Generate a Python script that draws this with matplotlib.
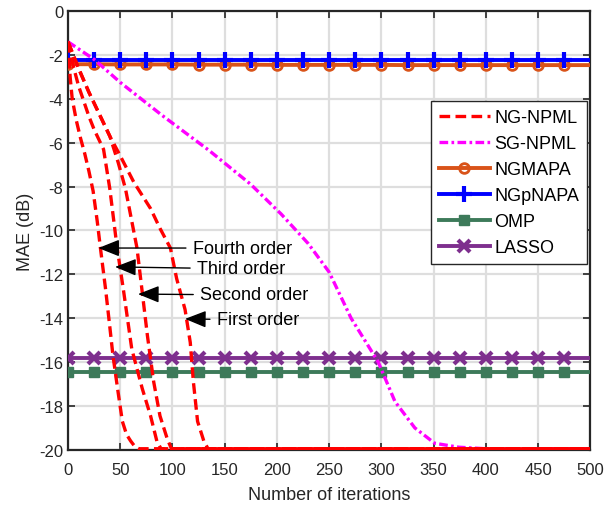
import numpy as np
import matplotlib
matplotlib.use("Agg")
import matplotlib.pyplot as plt

plt.rcParams['font.family'] = ['Liberation Sans', 'DejaVu Sans']
plt.rcParams['axes.unicode_minus'] = False

# ---------------- data ----------------
# NG-NPML curves (iterations, MAE dB)
ng4_x = [0, 2, 4, 8, 12, 16, 20, 24, 28, 31, 36, 40, 43, 48, 52, 56, 60, 64, 68, 500]
ng4_y = [-1.4, -3.0, -4.0, -5.0, -5.8, -6.5, -7.3, -8.2, -9.6, -10.8, -12.7, -14.4, -15.7, -17.4, -18.7, -19.3, -19.6, -19.85, -19.95, -19.95]

ng3_x = [0, 5, 10, 15, 20, 25, 30, 34, 40, 47, 53, 61, 71, 79, 85, 89, 500]
ng3_y = [-1.4, -2.5, -3.4, -4.1, -4.8, -5.4, -5.9, -6.3, -8.1, -10.8, -12.7, -15.4, -17.2, -18.45, -19.6, -19.95, -19.95]

ng2_x = [0, 10, 20, 30, 40, 44, 48, 55, 66, 71, 76, 82, 88, 95, 99, 500]
ng2_y = [-1.4, -2.6, -3.7, -4.7, -5.7, -6.3, -6.9, -8.1, -10.8, -12.8, -14.8, -16.9, -18.45, -19.5, -19.95, -19.95]

ng1_x = [0, 10, 20, 30, 40, 50, 63, 79, 88, 98, 104, 112, 117, 120, 124, 130, 134, 500]
ng1_y = [-1.4, -2.6, -3.7, -4.7, -5.7, -6.6, -7.8, -9.0, -9.9, -10.8, -12.2, -13.6, -15.1, -16.9, -18.7, -19.6, -19.95, -19.95]

sg_x = [0, 25, 50, 90, 135, 175, 204, 230, 250, 271, 297, 313, 332, 351, 374, 400, 500]
sg_y = [-1.4, -2.2, -3.25, -4.75, -6.35, -7.9, -9.25, -10.6, -11.9, -14.0, -16.0, -17.8, -19.0, -19.7, -19.88, -19.95, -19.95]

# baselines sampled every 25 iterations
base_x = [0, 25, 50, 75, 100, 125, 150, 175, 200, 225, 250, 275, 300, 325, 350, 375, 400, 425, 450, 475, 500]
ngmapa_y = [-2.42, -2.42, -2.43, -2.43, -2.43, -2.44, -2.44, -2.44, -2.45, -2.45, -2.45, -2.45, -2.45, -2.46, -2.46, -2.46, -2.46, -2.46, -2.46, -2.46, -2.46]
ngpnapa_y = [-2.25] * 21
omp_y = [-16.45] * 21
lasso_y = [-15.8] * 21

labels = ['NG-NPML', 'SG-NPML', 'NGMAPA', 'NGpNAPA', 'OMP', 'LASSO']

annot_text = ['Fourth order', 'Third order', 'Second order', 'First order']
annot_tip = [(29, -10.8), (45, -11.66), (67, -12.9), (112, -14.03)]
annot_txt = [(119.5, -10.8), (123.5, -11.75), (126.5, -12.94), (142.5, -14.08)]

# ---------------- plot ----------------
fig = plt.figure(figsize=(6.13, 5.06), dpi=100)
ax = fig.add_axes([0.111, 0.109, 0.852, 0.867])

red = '#FF0000'
mag = '#FF00FF'
org = '#D95319'
blu = '#0000FF'
grn = '#3D7A5A'
pur = '#7E2F8E'
lw = 2.4

l1, = ax.plot(ng4_x, ng4_y, color=red, lw=lw, dashes=(3.2, 1.6), zorder=5)
ax.plot(ng3_x, ng3_y, color=red, lw=lw, dashes=(3.2, 1.6), zorder=5)
ax.plot(ng2_x, ng2_y, color=red, lw=lw, dashes=(3.2, 1.6), zorder=5)
ax.plot(ng1_x, ng1_y, color=red, lw=lw, dashes=(3.2, 1.6), zorder=5)
l2, = ax.plot(sg_x, sg_y, color=mag, lw=lw, dashes=(2.6, 1.0, 0.8, 1.0), zorder=4)
me = slice(0, 20)
l3, = ax.plot(base_x, ngmapa_y, '-', color=org, lw=lw + 0.4, marker='o', ms=7, mfc='none',
              mec=org, mew=2, markevery=me, zorder=3)
l4, = ax.plot(base_x, ngpnapa_y, '-', color=blu, lw=lw + 0.4, marker='+', ms=12,
              mew=3, markevery=me, zorder=3)
l5, = ax.plot(base_x, omp_y, '-', color=grn, lw=lw + 0.4, marker='s', ms=7, mfc=grn,
              mec=grn, markevery=me, zorder=3)
l6, = ax.plot(base_x, lasso_y, '-', color=pur, lw=lw + 0.4, marker='x', ms=8.5,
              mew=3, markevery=me, zorder=3)

for t, tip, pos in zip(annot_text, annot_tip, annot_txt):
    ax.annotate(t, xy=tip, xytext=pos, fontsize=13, ha='left', va='center',
                arrowprops=dict(arrowstyle='-|>,head_length=1.0,head_width=0.4',
                                color='black', lw=1.0, shrinkA=3, shrinkB=0),
                zorder=6)

ax.set_xlim(0, 500)
ax.set_ylim(-20, 0)
ax.set_xticks(np.arange(0, 501, 50))
ax.set_yticks(np.arange(-20, 1, 2))
ax.grid(True, color='#DEDEDE', lw=1.6)
ax.set_axisbelow(True)
ax.tick_params(direction='in', length=5, width=1.2, labelsize=12, colors='#262626',
               top=True, right=True, labeltop=False, labelright=False)
ax.tick_params(axis='x', pad=9)
for s in ax.spines.values():
    s.set_linewidth(1.6)
    s.set_color('#262626')
ax.set_xlabel('Number of iterations', fontsize=13, color='#262626', labelpad=6)
ax.set_ylabel('MAE (dB)', fontsize=13, color='#262626', labelpad=4)

leg = ax.legend([l1, l2, l3, l4, l5, l6], labels, loc='upper right',
                bbox_to_anchor=(0.994, 0.795), borderaxespad=0, fontsize=13,
                handlelength=2.8, labelspacing=0.5, fancybox=False, framealpha=1,
                edgecolor='#262626', borderpad=0.45, handletextpad=0.25)
leg.get_frame().set_linewidth(1.0)

fig.savefig('out.png', dpi=100)
